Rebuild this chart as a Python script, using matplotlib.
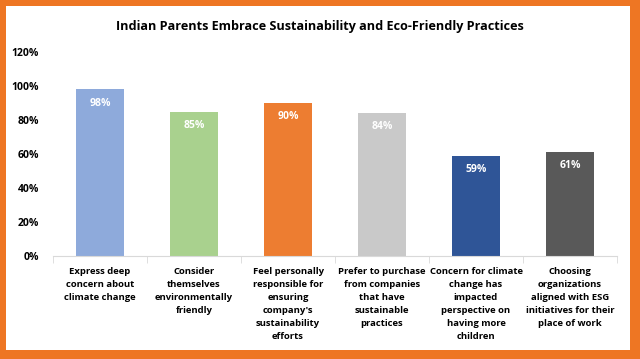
import matplotlib.pyplot as plt
from matplotlib.patches import Rectangle

categories = [
    "Express deep\nconcern about\nclimate change",
    "Consider\nthemselves\nenvironmentally\nfriendly",
    "Feel personally\nresponsible for\nensuring\ncompany's\nsustainability\nefforts",
    "Prefer to purchase\nfrom companies\nthat have\nsustainable\npractices",
    "Concern for climate\nchange has\nimpacted\nperspective on\nhaving more\nchildren",
    "Choosing\norganizations\naligned with ESG\ninitiatives for their\nplace of work",
]
values = [98, 85, 90, 84, 59, 61]
colors = ["#8eaadb", "#a9d18e", "#ed7d31", "#c9c9c9", "#2f5597", "#595959"]
yticks = [0, 20, 40, 60, 80, 100, 120]

plt.rcParams["font.family"] = ["Open Sans", "DejaVu Sans"]

W, H = 640, 359
fig = plt.figure(figsize=(W / 100, H / 100), dpi=100)
fig.patch.set_facecolor("white")

# orange frame (left, top, right, bottom thickness in px)
orange = "#ee7623"
for (x0, y0, w, h) in [(0, 0, 6, H), (0, H - 6, W, 6), (W - 10, 0, 10, H), (0, 0, W, 9)]:
    fig.patches.append(Rectangle((x0 / W, y0 / H), w / W, h / H,
                                 transform=fig.transFigure, facecolor=orange,
                                 edgecolor="none", zorder=0))

ax = fig.add_axes([0.083, 0.287, 0.881, 0.568])
x = range(len(values))
ax.bar(x, values, width=0.51, color=colors, zorder=2)

for xi, v in zip(x, values):
    ax.text(xi, v - 8, f"{v}%", ha="center", va="center", color="white",
            fontsize=7.5, fontweight="bold")

ax.set_xlim(-0.5, len(values) - 0.5)
ax.set_ylim(0, 120)
ax.set_yticks(yticks)
ax.set_yticklabels([f"{t}%" for t in yticks], fontsize=7.5, fontweight="bold")
ax.tick_params(axis="y", length=0, pad=10)

# category labels
ax.set_xticks([])
for xi, c in zip(x, categories):
    ax.text(xi, -6.5, c, ha="center", va="top", fontsize=6.8, fontweight="bold",
            linespacing=1.58)

# boundary ticks
ax.set_xticks([i - 0.5 for i in range(len(values) + 1)], minor=True)
ax.tick_params(axis="x", which="minor", length=5, color="#d9d9d9")

for s in ["top", "right", "left"]:
    ax.spines[s].set_visible(False)
ax.spines["bottom"].set_color("#d9d9d9")

fig.text(0.5, 0.925, "Indian Parents Embrace Sustainability and Eco-Friendly Practices",
         ha="center", va="center", fontsize=9.1, fontweight="bold")

fig.savefig("out.png", dpi=100)
